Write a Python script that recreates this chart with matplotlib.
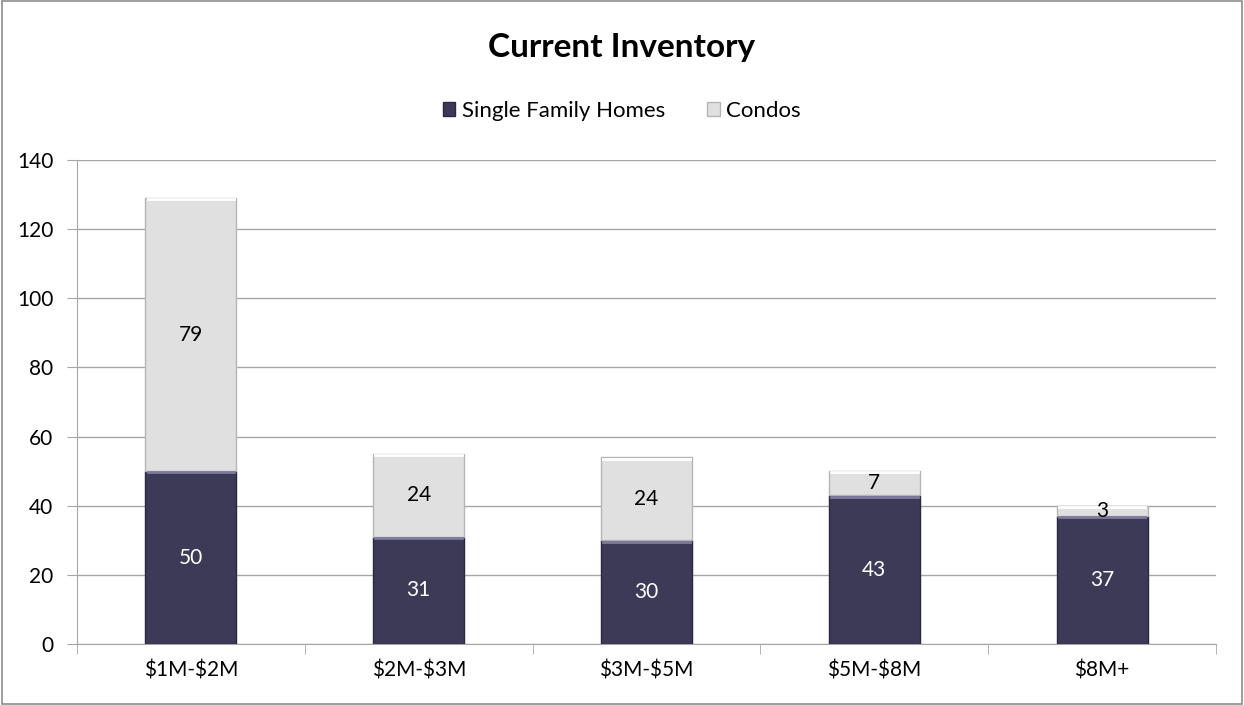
import matplotlib.pyplot as plt
from matplotlib.patches import Rectangle
import numpy as np

plt.rcParams['font.family'] = ['Lato', 'DejaVu Sans']
plt.rcParams['text.parse_math'] = False

# data
categories = ['$1M-$2M', '$2M-$3M', '$3M-$5M', '$5M-$8M', '$8M+']
single_family = [50, 31, 30, 43, 37]
condos = [79, 24, 24, 7, 3]

sfh_color = '#3d3a58'
condo_color = '#e0e0e0'
grid_color = '#a6a6a6'

fig = plt.figure(figsize=(12.44, 7.05), dpi=100)
ax = fig.add_axes([0.0619, 0.0865, 0.9156, 0.6865])

x = np.arange(len(categories))
b1 = ax.bar(x, single_family, width=0.4, color=sfh_color, edgecolor='#2a2840', linewidth=1.0,
            label='Single Family Homes', zorder=3)
b2 = ax.bar(x, condos, width=0.4, bottom=single_family, color=condo_color, edgecolor='#b5b5b5',
            linewidth=1.0, label='Condos', zorder=3)

# bevel highlight at the top of each segment
for bars, hl in ((b1, '#7d7a9c'), (b2, '#ffffff')):
    for r in bars:
        ax.plot([r.get_x() + 0.01, r.get_x() + r.get_width() - 0.01],
                [r.get_y() + r.get_height() - 0.35] * 2, color=hl, lw=2.0, zorder=4)

ax.bar_label(b1, label_type='center', color='white', fontsize=15, zorder=5)
ax.bar_label(b2, label_type='center', color='black', fontsize=15, zorder=5)

ax.set_xlim(-0.5, len(categories) - 0.5)
ax.set_ylim(0, 140)
ax.set_yticks(range(0, 141, 20))
ax.set_xticks(x)
ax.set_xticklabels(categories)
ax.set_xticks(np.arange(-0.5, len(categories), 1), minor=True)
ax.tick_params(axis='x', which='major', length=0, pad=12, labelsize=15)
ax.tick_params(axis='x', which='minor', length=7, color=grid_color, direction='out')
ax.tick_params(axis='y', length=7, color=grid_color, labelsize=15, pad=10)

ax.grid(axis='y', color=grid_color, lw=1.0, zorder=0)
for s in ['top', 'right']:
    ax.spines[s].set_visible(False)
for s in ['left', 'bottom']:
    ax.spines[s].set_color(grid_color)

fig.text(0.5, 0.932, 'Current Inventory', ha='center', va='center', fontsize=24, fontweight='bold')
fig.legend(loc='center', bbox_to_anchor=(0.5, 0.843), ncol=2, frameon=False, fontsize=16,
           handlelength=0.55, handleheight=0.55, handletextpad=0.3, columnspacing=1.9)

fig.patches.append(Rectangle((0.002, 0.002), 0.996, 0.996, transform=fig.transFigure,
                             fill=False, edgecolor='#8c8c8c', lw=1.2))

fig.savefig('out.png', dpi=100)
